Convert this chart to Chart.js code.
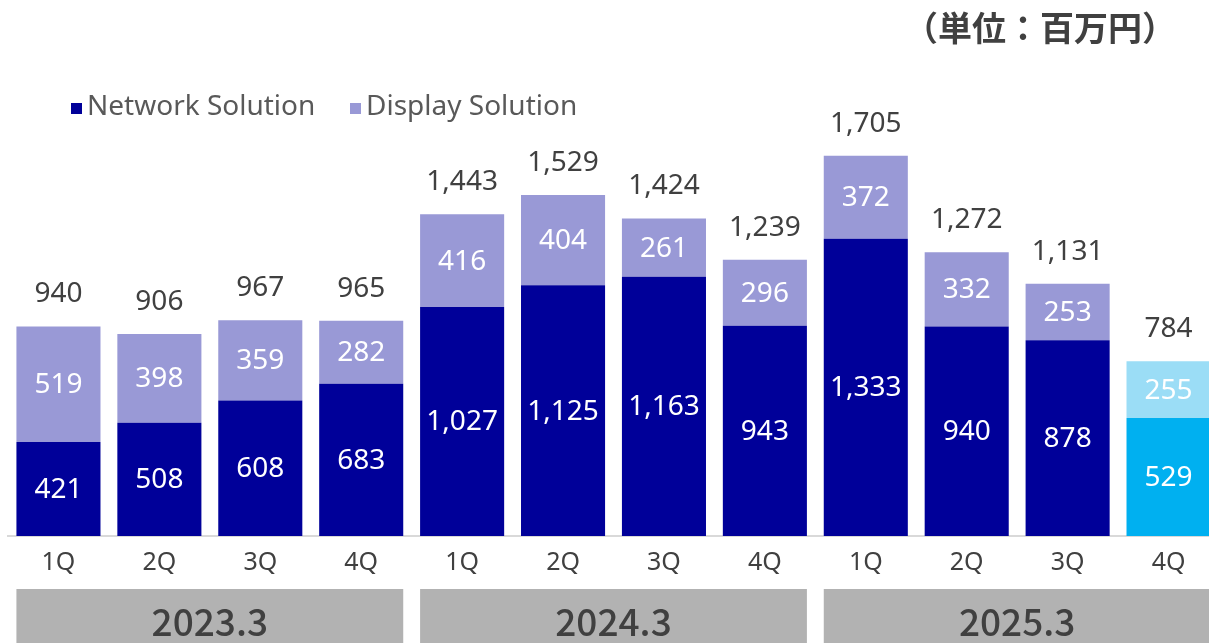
<!DOCTYPE html>
<html>
<head>
<meta charset="utf-8">
<script src="https://cdn.jsdelivr.net/npm/chart.js@4/dist/chart.umd.min.js"></script>
<style>
  html, body { margin: 0; padding: 0; background: #fff; overflow: hidden; }
  #chart { display: block; }
</style>
</head>
<body>
<canvas id="chart" width="1220" height="643"></canvas>
<script>
// quarterly sales by segment (million yen)
const quarters = ['1Q', '2Q', '3Q', '4Q', '1Q', '2Q', '3Q', '4Q', '1Q', '2Q', '3Q', '4Q'];
const fiscalYears = ['2023.3', '2024.3', '2025.3'];
const networkSolution = [421, 508, 608, 683, 1027, 1125, 1163, 943, 1333, 940, 878, 529];
const displaySolution = [519, 398, 359, 282, 416, 404, 261, 296, 372, 332, 253, 255];
const unitLabel = '（単位：百万円）';

const NAVY = '#000099';
const LAVENDER = '#9999D6';
const CYAN = '#00B0F0';
const LIGHT_CYAN = '#9BDDF6';
const TEXT = '#404040';
const FONT = '"Noto Sans", "Noto Sans CJK JP", sans-serif';

// latest quarter is shown in its own colours
const lastIdx = quarters.length - 1;
const networkColors = quarters.map((q, i) => i === lastIdx ? CYAN : NAVY);
const displayColors = quarters.map((q, i) => i === lastIdx ? LIGHT_CYAN : LAVENDER);

const fmt = v => v.toLocaleString('en-US');

// value labels, totals, legend, unit and fiscal year bands
const decorations = {
    id: 'decorations',
    afterDatasetsDraw(chart) {
        const ctx = chart.ctx;
        ctx.save();
        ctx.textAlign = 'center';
        ctx.textBaseline = 'middle';
        ctx.font = '28px ' + FONT;

        // segment values inside the bars
        chart.data.datasets.forEach((ds, di) => {
            const meta = chart.getDatasetMeta(di);
            meta.data.forEach((bar, i) => {
                ctx.fillStyle = '#ffffff';
                ctx.fillText(fmt(ds.data[i]), bar.x, (bar.y + bar.base) / 2 + 1);
            });
        });

        // totals above the stacks
        const topMeta = chart.getDatasetMeta(chart.data.datasets.length - 1);
        topMeta.data.forEach((bar, i) => {
            const total = chart.data.datasets.reduce((acc, ds) => acc + ds.data[i], 0);
            ctx.fillStyle = TEXT;
            ctx.fillText(fmt(total), bar.x, bar.y - 32);
        });
        ctx.restore();
    },
    afterDraw(chart) {
        const ctx = chart.ctx;
        ctx.save();

        // unit
        ctx.fillStyle = TEXT;
        ctx.font = 'bold 34px "Noto Sans CJK JP", sans-serif';
        ctx.textAlign = 'right';
        ctx.textBaseline = 'middle';
        ctx.fillText(unitLabel, 1176, 28);

        // legend
        ctx.font = '28px ' + FONT;
        ctx.textAlign = 'left';
        const legendX = [71, 350];
        chart.data.datasets.forEach((ds, di) => {
            const lx = legendX[di];
            ctx.fillStyle = ds.legendColor;
            ctx.fillRect(lx, 103, 11, 11);
            ctx.fillStyle = '#595959';
            ctx.fillText(ds.label, lx + 16, 107);
        });

        // fiscal year bands under the quarter labels
        const meta = chart.getDatasetMeta(0);
        fiscalYears.forEach((fy, g) => {
            const first = meta.data[g * 4];
            const last = meta.data[g * 4 + 3];
            const x0 = first.x - first.width / 2;
            const x1 = last.x + last.width / 2;
            ctx.fillStyle = '#B2B2B2';
            ctx.fillRect(x0, 589, x1 - x0, 60);
            ctx.fillStyle = TEXT;
            ctx.font = '500 37px "Noto Sans CJK JP", sans-serif';
            ctx.textAlign = 'center';
            ctx.fillText(fy, (x0 + x1) / 2, 622);
        });
        ctx.restore();
    }
};

new Chart(document.getElementById('chart'), {
    type: 'bar',
    data: {
        labels: quarters,
        datasets: [
            {
                label: 'Network Solution',
                data: networkSolution,
                backgroundColor: networkColors,
                legendColor: NAVY,
                categoryPercentage: 1,
                barPercentage: 0.833
            },
            {
                label: 'Display Solution',
                data: displaySolution,
                backgroundColor: displayColors,
                legendColor: LAVENDER,
                categoryPercentage: 1,
                barPercentage: 0.833
            }
        ]
    },
    options: {
        responsive: false,
        animation: false,
        layout: { padding: { left: 8, right: 1, top: 90, bottom: 53 } },
        plugins: {
            legend: { display: false },
            title: { display: false },
            tooltip: { enabled: false }
        },
        scales: {
            x: {
                stacked: true,
                grid: { display: false, drawTicks: false },
                border: { display: true, color: '#D9D9D9', width: 2 },
                ticks: {
                    color: TEXT,
                    font: { family: FONT, size: 25 },
                    padding: 12
                }
            },
            y: {
                stacked: true,
                display: false,
                min: 0,
                max: 2000
            }
        }
    },
    plugins: [decorations]
});
</script>
</body>
</html>
